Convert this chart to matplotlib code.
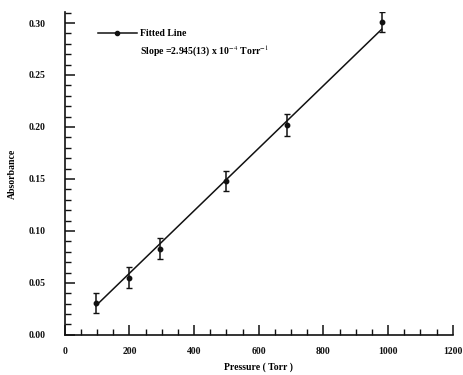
import numpy as np
import matplotlib.pyplot as plt
from matplotlib.ticker import MultipleLocator, FixedFormatter, FixedLocator

# data
pressure = [96, 198, 295, 499, 688, 980]
absorbance = [0.031, 0.055, 0.083, 0.148, 0.202, 0.301]
err = [0.0096, 0.010, 0.010, 0.010, 0.0105, 0.010]
fit_x = [96, 980]
fit_y = [0.028, 0.294]

x_ticks = [0, 200, 400, 600, 800, 1000, 1200]
x_labels = ['0', '200', '400', '600', '800', '1000', '1200']
y_ticks = [0.00, 0.05, 0.10, 0.15, 0.20, 0.25, 0.30]
y_labels = ['0.00', '0.05', '0.10', '0.15', '0.20', '0.25', '0.30']

plt.rcParams['font.family'] = ['Liberation Serif', 'DejaVu Serif']
plt.rcParams['mathtext.fontset'] = 'stix'

fig = plt.figure(figsize=(4.63, 3.75), dpi=100)
ax = fig.add_axes([0.14, 0.107, 0.838, 0.861])

ink = '#111111'
ax.plot(fit_x, fit_y, color=ink, lw=1.1)
ax.errorbar(pressure, absorbance, yerr=err, fmt='o', color=ink, ms=3.2,
            capsize=2.5, elinewidth=1.1, capthick=1.0)

ax.set_xlim(0, 1200)
ax.set_ylim(0, 0.3106)
ax.xaxis.set_major_locator(FixedLocator(x_ticks))
ax.xaxis.set_major_formatter(FixedFormatter(x_labels))
ax.yaxis.set_major_locator(FixedLocator(y_ticks))
ax.yaxis.set_major_formatter(FixedFormatter(y_labels))
ax.xaxis.set_minor_locator(MultipleLocator(50))
ax.yaxis.set_minor_locator(MultipleLocator(0.01))

for s in ['top', 'right']:
    ax.spines[s].set_visible(False)
for s in ['left', 'bottom']:
    ax.spines[s].set_linewidth(1.2)
    ax.spines[s].set_color(ink)

ax.tick_params(axis='both', which='major', direction='in', length=7, width=1.1,
               labelsize=7, colors=ink)
ax.tick_params(axis='both', which='minor', direction='in', length=4, width=1.0,
               colors=ink)
ax.tick_params(axis='x', pad=9)
ax.tick_params(axis='y', pad=14)
for lab in ax.get_xticklabels() + ax.get_yticklabels():
    lab.set_fontweight('bold')

ax.set_xlabel('Pressure ( Torr )', fontsize=7, labelpad=4, fontweight='bold')
ax.set_ylabel('Absorbance', fontsize=7, labelpad=8, fontweight='bold')

# legend drawn by hand like the original
leg_x = [102, 223]
ax.plot(leg_x, [0.290, 0.290], color=ink, lw=1.1)
ax.plot([np.mean(leg_x)], [0.290], 'o', color=ink, ms=3)
ax.text(232, 0.290, 'Fitted Line', fontsize=7, va='center', fontweight='bold')
ax.text(232, 0.273, r'Slope =2.945(13) x 10$^{-4}$ Torr$^{-1}$', fontsize=7,
        va='center', fontweight='bold')

fig.savefig('out.png', dpi=100)
